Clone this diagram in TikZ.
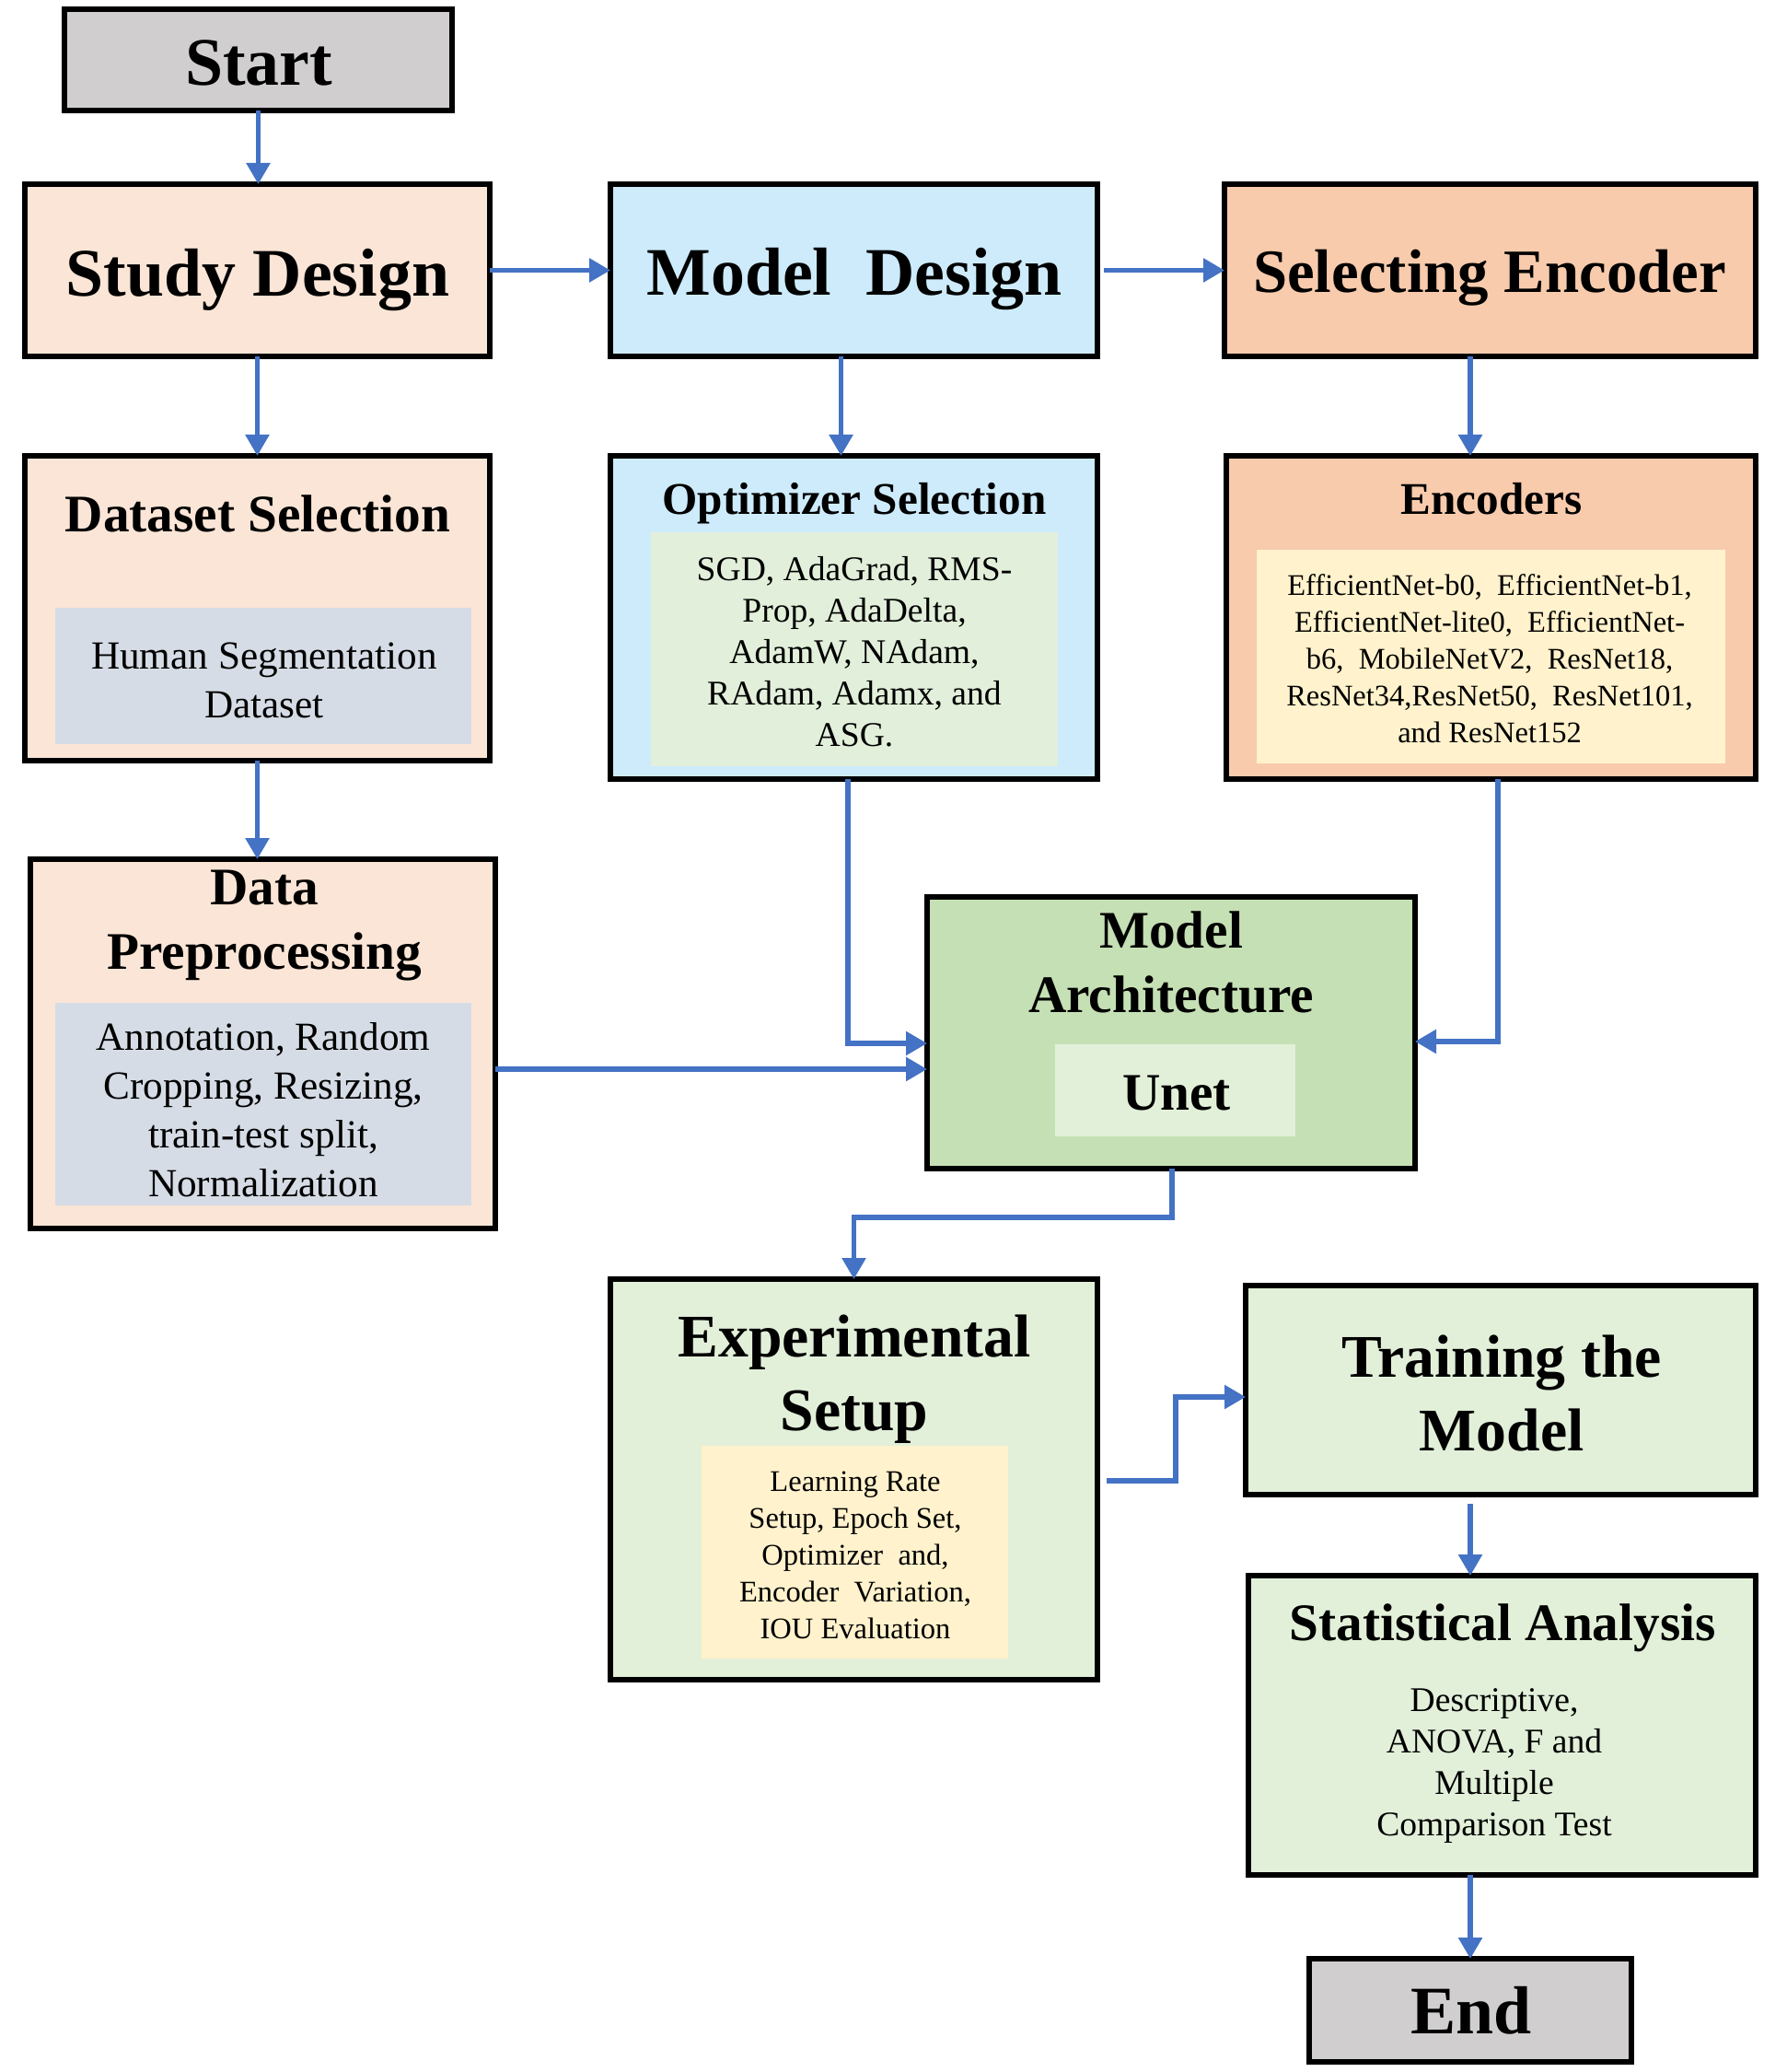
\documentclass[tikz,border=0pt]{standalone}
\usepackage{fontspec}
\setmainfont{Liberation Serif}
\usetikzlibrary{arrows.meta}

\definecolor{greyfill}{HTML}{D0CECE}
\definecolor{peach}{HTML}{FBE5D6}
\definecolor{skyfill}{HTML}{CDEBFB}
\definecolor{orangefill}{HTML}{F8CBAD}
\definecolor{slatefill}{HTML}{D6DCE5}
\definecolor{mintfill}{HTML}{E2EFDA}
\definecolor{creamfill}{HTML}{FFF2CC}
\definecolor{leaffill}{HTML}{C5E0B4}
\definecolor{palegreen}{HTML}{E2F0D9}
\definecolor{flowblue}{HTML}{4472C4}

\tikzset{
  box/.style={draw=black, line width=0.06cm, inner sep=0pt, outer sep=0pt},
  panel/.style={draw=none, inner sep=0pt, outer sep=0pt},
  lbl/.style={inner sep=0pt, outer sep=0pt, align=center},
  flow/.style={draw=flowblue, line width=0.055cm,
    -{Triangle[length=0.23cm,width=0.25cm]}},
  hA/.style={font=\fontsize{21}{25}\selectfont\bfseries},
  hB/.style={font=\fontsize{19}{23}\selectfont\bfseries},
  hC/.style={font=\fontsize{18.7}{22.8}\selectfont\bfseries},
  hD/.style={font=\fontsize{16.3}{20}\selectfont\bfseries},
  hE/.style={font=\fontsize{14}{17}\selectfont\bfseries},
  bA/.style={font=\fontsize{12.3}{15.1}\selectfont},
  bB/.style={font=\fontsize{10.7}{12.8}\selectfont},
  bC/.style={font=\fontsize{9.25}{11.4}\selectfont},
}

\begin{document}
\begin{tikzpicture}[x=1cm,y=-1cm]
\useasboundingbox (0,0) rectangle (19.4,22.5);

% ---- outer boxes ----
\node[box, fill=greyfill,   minimum width=4.21cm, minimum height=1.10cm] (start)   at (2.805,0.65)  {};
\node[box, fill=peach,      minimum width=5.05cm, minimum height=1.87cm] (study)   at (2.795,2.935) {};
\node[box, fill=skyfill,    minimum width=5.29cm, minimum height=1.87cm] (model)   at (9.275,2.935) {};
\node[box, fill=orangefill, minimum width=5.77cm, minimum height=1.87cm] (selenc)  at (16.185,2.935) {};
\node[box, fill=peach,      minimum width=5.05cm, minimum height=3.31cm] (dataset) at (2.795,6.605) {};
\node[box, fill=skyfill,    minimum width=5.29cm, minimum height=3.51cm] (optim)   at (9.275,6.705) {};
\node[box, fill=orangefill, minimum width=5.75cm, minimum height=3.51cm] (encs)    at (16.195,6.705) {};
\node[box, fill=peach,      minimum width=5.05cm, minimum height=4.01cm] (prep)    at (2.855,11.335) {};
\node[box, fill=leaffill,   minimum width=5.30cm, minimum height=2.95cm] (arch)    at (12.72,11.215) {};
\node[box, fill=palegreen,  minimum width=5.29cm, minimum height=4.35cm] (exp)     at (9.275,16.065) {};
\node[box, fill=palegreen,  minimum width=5.54cm, minimum height=2.27cm] (train)   at (16.30,15.095) {};
\node[box, fill=palegreen,  minimum width=5.51cm, minimum height=3.25cm] (stats)   at (16.315,18.735) {};
\node[box, fill=greyfill,   minimum width=3.50cm, minimum height=1.12cm] (end)     at (15.97,21.83) {};

% ---- inner panels ----
\node[panel, fill=slatefill, minimum width=4.52cm, minimum height=1.48cm] (humanp) at (2.86,7.34) {};
\node[panel, fill=mintfill,  minimum width=4.42cm, minimum height=2.54cm] (optp)   at (9.28,7.05) {};
\node[panel, fill=creamfill, minimum width=5.09cm, minimum height=2.32cm] (encp)   at (16.195,7.13) {};
\node[panel, fill=slatefill, minimum width=4.52cm, minimum height=2.20cm] (prepp)  at (2.86,11.99) {};
\node[panel, fill=palegreen, minimum width=2.61cm, minimum height=1.00cm] (unetp)  at (12.765,11.84) {};
\node[panel, fill=creamfill, minimum width=3.33cm, minimum height=2.31cm] (expp)   at (9.285,16.855) {};

% ---- titles ----
\node[lbl, hA, anchor=base] (tstart) at (2.81,0.93)  {Start};
\node[lbl, hA, anchor=base] (tstudy) at (2.80,3.22)  {Study Design};
\node[lbl, hA, anchor=base] (tmodel) at (9.28,3.21)  {Model\ \ Design};
\node[lbl, hB, anchor=base] (tsel)   at (16.18,3.18) {Selecting Encoder};
\node[lbl, hD, anchor=base] (tdata)  at (2.80,5.78)  {Dataset Selection};
\node[lbl, hE, anchor=base] (topt)   at (9.28,5.59)  {Optimizer Selection};
\node[lbl, hE, anchor=base] (tenc)   at (16.20,5.59) {Encoders};
\node[lbl, hD] (tprep)  at (2.87,10.05)  {Data\\Preprocessing};
\node[lbl, hD] (tarch)  at (12.72,10.45) {Model\\Architecture};
\node[lbl, hD, anchor=base] (tunet) at (12.78,12.05) {Unet};
\node[lbl, hC] (texp)   at (9.28,14.98)  {Experimental\\Setup};
\node[lbl, hC] (ttrain) at (16.31,15.13) {Training the\\Model};
\node[lbl, hD, anchor=base] (tstats) at (16.32,17.81) {Statistical Analysis};
\node[lbl, hA, anchor=base] (tend)   at (15.98,22.08) {End};

% ---- body texts ----
\node[lbl, bA] (bhuman) at (2.87,7.39)  {Human Segmentation\\Dataset};
\node[lbl, bA] (bprep)  at (2.86,12.05) {Annotation, Random\\Cropping, Resizing,\\train-test split,\\Normalization};
\node[lbl, bB] (bopt)   at (9.28,7.08)  {SGD, AdaGrad, RMS-\\Prop, AdaDelta,\\AdamW, NAdam,\\RAdam, Adamx, and\\ASG.};
\node[lbl, bC] (benc)   at (16.18,7.15) {EfficientNet-b0,\ \ EfficientNet-b1,\\EfficientNet-lite0,\ \ EfficientNet-\\b6,\ \ MobileNetV2,\ \ ResNet18,\\ResNet34,ResNet50,\ \ ResNet101,\\and ResNet152};
\node[lbl, bC] (bexp)   at (9.29,16.89) {Learning Rate\\Setup, Epoch Set,\\Optimizer\ \ and,\\Encoder\ \ Variation,\\IOU Evaluation};
\node[lbl, bB] (bstats) at (16.23,19.18) {Descriptive,\\ANOVA, F and\\Multiple\\Comparison Test};

% ---- route points ----
\coordinate (oa) at (9.21,11.33);
\coordinate (pa) at (5.41,11.61);
\coordinate (ea) at (16.27,11.31);
\coordinate (ax) at (12.73,13.22);
\coordinate (et0) at (12.02,16.08);
\coordinate (et1) at (12.77,16.08);
\coordinate (et2) at (12.77,15.17);
\coordinate (ts) at (15.97,16.33);

% ---- connectors ----
\draw[flow] (start.south) -- (start.south |- study.north);
\draw[flow] (study.east) -- (model.west);
\draw[flow] ([xshift=0.07cm]model.east) -- (selenc.west);
\draw[flow] (study.south) -- (dataset.north);
\draw[flow] ([xshift=-0.14cm]model.south) -- ([xshift=-0.14cm]optim.north);
\draw[flow] ([xshift=-0.215cm]selenc.south) -- ([xshift=-0.215cm]selenc.south |- encs.north);
\draw[flow] (dataset.south) -- (dataset.south |- prep.north);
\draw[flow] (optim.south -| oa) -- (oa) -- (oa -| arch.west);
\draw[flow] (pa -| prep.east) -- (pa -| arch.west);
\draw[flow] (encs.south -| ea) -- (ea) -- (ea -| arch.east);
\draw[flow] (arch.south -| ax) -- (ax) -- (ax -| exp.north) -- (exp.north);
\draw[flow] (et0) -- (et1) -- (et2) -- (et2 -| train.west);
\draw[flow] (ts) -- (ts |- stats.north);
\draw[flow] (stats.south -| ts) -- (end.north -| ts);
\end{tikzpicture}
\end{document}
